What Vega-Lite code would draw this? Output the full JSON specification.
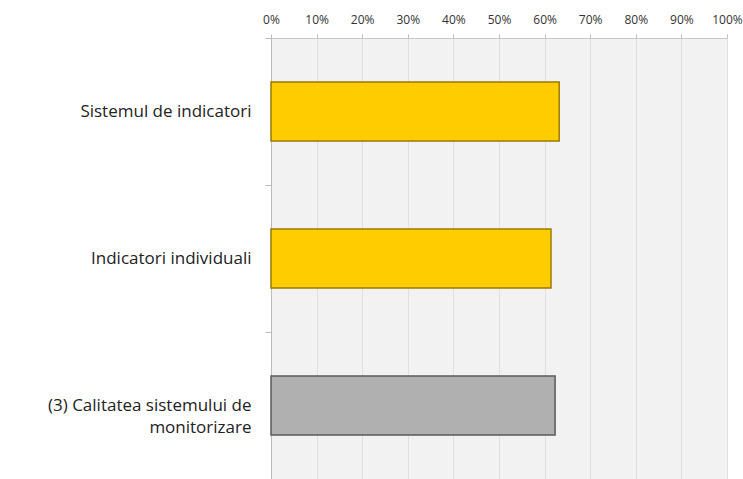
{
  "$schema": "https://vega.github.io/schema/vega-lite/v6.json",
  "autosize": {"type": "none"},
  "width": 456,
  "height": 441,
  "padding": {"left": 271, "top": 38, "right": 16, "bottom": 0},
  "background": "white",
  "config": {
    "view": {"fill": "#f2f2f2", "stroke": null},
    "font": "Open Sans"
  },
  "data": {
    "values": [
      {"categorie": "Sistemul de indicatori", "valoare": 0.632, "grup": "a"},
      {"categorie": "Indicatori individuali", "valoare": 0.614, "grup": "a"},
      {"categorie": "(3) Calitatea sistemului de|monitorizare", "valoare": 0.623, "grup": "b"}
    ]
  },
  "mark": {"type": "bar", "strokeWidth": 1.5, "height": {"band": 0.4}},
  "encoding": {
    "y": {
      "field": "categorie",
      "type": "nominal",
      "sort": null,
      "scale": {"paddingInner": 0, "paddingOuter": 0},
      "axis": {
        "title": null,
        "labelExpr": "split(datum.value, '|')[1] ? [split(datum.value, '|')[0], split(datum.value, '|')[1]] : datum.value",
        "labelFontSize": 17,
        "labelColor": "#222222",
        "labelPadding": 14,
        "labelLineHeight": 22,
        "labelLimit": 300,
        "tickBand": "extent",
        "tickSize": 6,
        "tickColor": "#bbbbbb",
        "domainColor": "#bbbbbb",
        "grid": false
      }
    },
    "x": {
      "field": "valoare",
      "type": "quantitative",
      "scale": {"domain": [0, 1], "nice": false},
      "axis": {
        "orient": "top",
        "title": null,
        "values": [0, 0.1, 0.2, 0.3, 0.4, 0.5, 0.6, 0.7, 0.8, 0.9, 1],
        "format": ".0%",
        "labelFontSize": 12,
        "labelColor": "#333333",
        "tickSize": 4,
        "labelPadding": 8,
        "tickColor": "#bbbbbb",
        "domainColor": "#c8c8c8",
        "gridColor": "#e0e0e0",
        "labelFlush": false
      }
    },
    "fill": {
      "field": "grup",
      "type": "nominal",
      "scale": {"domain": ["a", "b"], "range": ["#ffcc00", "#b0b0b0"]},
      "legend": null
    },
    "stroke": {
      "field": "grup",
      "type": "nominal",
      "scale": {"domain": ["a", "b"], "range": ["#9a7a00", "#5a5a5a"]},
      "legend": null
    }
  }
}
